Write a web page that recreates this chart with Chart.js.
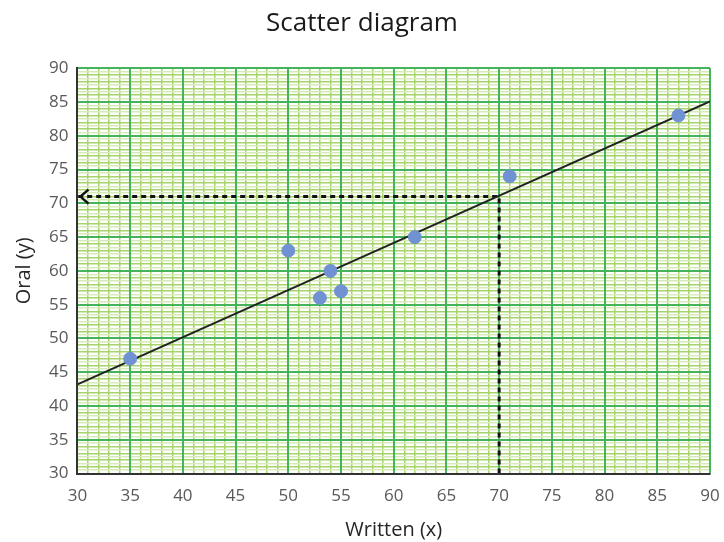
<!DOCTYPE html>
<html>
<head>
<meta charset="utf-8">
<script src="https://cdn.jsdelivr.net/npm/chart.js@4.4.1/dist/chart.umd.min.js"></script>
<style>
    html, body { margin: 0; padding: 0; background: #fff; }
    #wrap { width: 724px; height: 542px; }
</style>
</head>
<body>
<div id="wrap"><canvas id="scatterChart"></canvas></div>
<script>
const writtenScores = [35, 50, 53, 54, 55, 62, 71, 87];
const oralScores = [47, 63, 56, 60, 57, 65, 74, 83];

// line of best fit at both edges
const fitX = [30, 90];
const fitY = [43.2, 85.1];

// estimate for written = 70
const guideX = [70, 70, 30];
const guideY = [30, 71, 71];

const axisMin = 30;
const axisMax = 90;

const font = "'Open Sans', 'Liberation Sans', sans-serif";

function toPoints(xs, ys) {
    return xs.map((x, i) => ({ x, y: ys[i] }));
}

function roundTick(v) {
    return Math.round(v * 10) / 10;
}

// minor lines only; majors come from the x2 / y2 axes drawn on top of them
function minorColor(ctx) {
    const v = roundTick(ctx.tick.value);
    if (v % 5 === 0) return "rgba(0,0,0,0)";
    if (v % 1 === 0) return "#a6d36a";
    return "#d6ebb9";
}

function tickLabel(v) {
    const r = roundTick(v);
    return r % 5 === 0 ? r : "";
}

const majorAxis = {
    type: "linear",
    min: axisMin,
    max: axisMax,
    ticks: { display: false, stepSize: 5 },
    grid: { color: "#45b35a", lineWidth: 2, drawTicks: false, z: -1 },
    border: { display: false }
};

// "<" head at the left end of the dashed guide
const arrowHead = {
    id: "arrowHead",
    afterDatasetsDraw(chart) {
        const ctx = chart.ctx;
        const x = chart.scales.x.getPixelForValue(guideX[2]);
        const y = chart.scales.y.getPixelForValue(guideY[2]);
        ctx.save();
        ctx.strokeStyle = "#111";
        ctx.lineWidth = 2.5;
        ctx.beginPath();
        ctx.moveTo(x + 11, y - 7);
        ctx.lineTo(x + 3, y);
        ctx.lineTo(x + 11, y + 7);
        ctx.stroke();
        ctx.restore();
    }
};

const ctx = document.getElementById("scatterChart").getContext("2d");
new Chart(ctx, {
    type: "scatter",
    data: {
        datasets: [
            {
                label: "Fit",
                type: "line",
                data: toPoints(fitX, fitY),
                borderColor: "#222",
                borderWidth: 2,
                pointRadius: 0,
                fill: false,
                order: 2
            },
            {
                label: "Guide",
                type: "line",
                data: toPoints(guideX, guideY),
                borderColor: "#111",
                borderWidth: 3,
                borderDash: [5, 4],
                pointRadius: 0,
                fill: false,
                order: 3
            },
            {
                label: "Scores",
                data: toPoints(writtenScores, oralScores),
                backgroundColor: "#7192d2",
                borderColor: "#7192d2",
                pointRadius: 6.5,
                order: 1
            }
        ]
    },
    options: {
        responsive: true,
        maintainAspectRatio: false,
        animation: false,
        layout: { padding: { left: 0, right: 0, top: 8, bottom: 0 } },
        scales: {
            x: {
                type: "linear",
                min: axisMin,
                max: axisMax,
                // tick padding is otherwise added to the right-hand gap too
                afterFit: scale => { scale.paddingRight = 14; },
                ticks: {
                    stepSize: 1,
                    autoSkip: false,
                    maxRotation: 0,
                    padding: 12,
                    color: "#595959",
                    font: { family: font, size: 17 },
                    callback: tickLabel
                },
                grid: { color: minorColor, lineWidth: 1.5, drawTicks: false, z: -2 },
                border: { display: true, color: "#333", width: 2, z: 2 },
                title: {
                    display: true,
                    text: "Written (x)",
                    color: "#262626",
                    font: { family: font, size: 20 },
                    padding: { top: 0, bottom: 0 }
                }
            },
            y: {
                type: "linear",
                min: axisMin,
                max: axisMax,
                ticks: {
                    stepSize: 0.5,
                    autoSkip: false,
                    padding: 9,
                    color: "#595959",
                    font: { family: font, size: 17 },
                    callback: tickLabel
                },
                grid: { color: minorColor, lineWidth: 1.5, drawTicks: false, z: -2 },
                border: { display: true, color: "#333", width: 2, z: 2 },
                title: {
                    display: true,
                    text: "Oral (y)",
                    color: "#262626",
                    font: { family: font, size: 20 },
                    padding: { top: 12, bottom: 4 }
                }
            },
            x2: { ...majorAxis, position: "top" },
            y2: { ...majorAxis, position: "right" }
        },
        plugins: {
            legend: { display: false },
            tooltip: { enabled: false },
            title: {
                display: true,
                text: "Scatter diagram",
                color: "#1a1a1a",
                font: { family: font, size: 26, weight: "normal" },
                padding: { top: 0, bottom: 29 }
            }
        }
    },
    plugins: [arrowHead]
});
</script>
</body>
</html>
